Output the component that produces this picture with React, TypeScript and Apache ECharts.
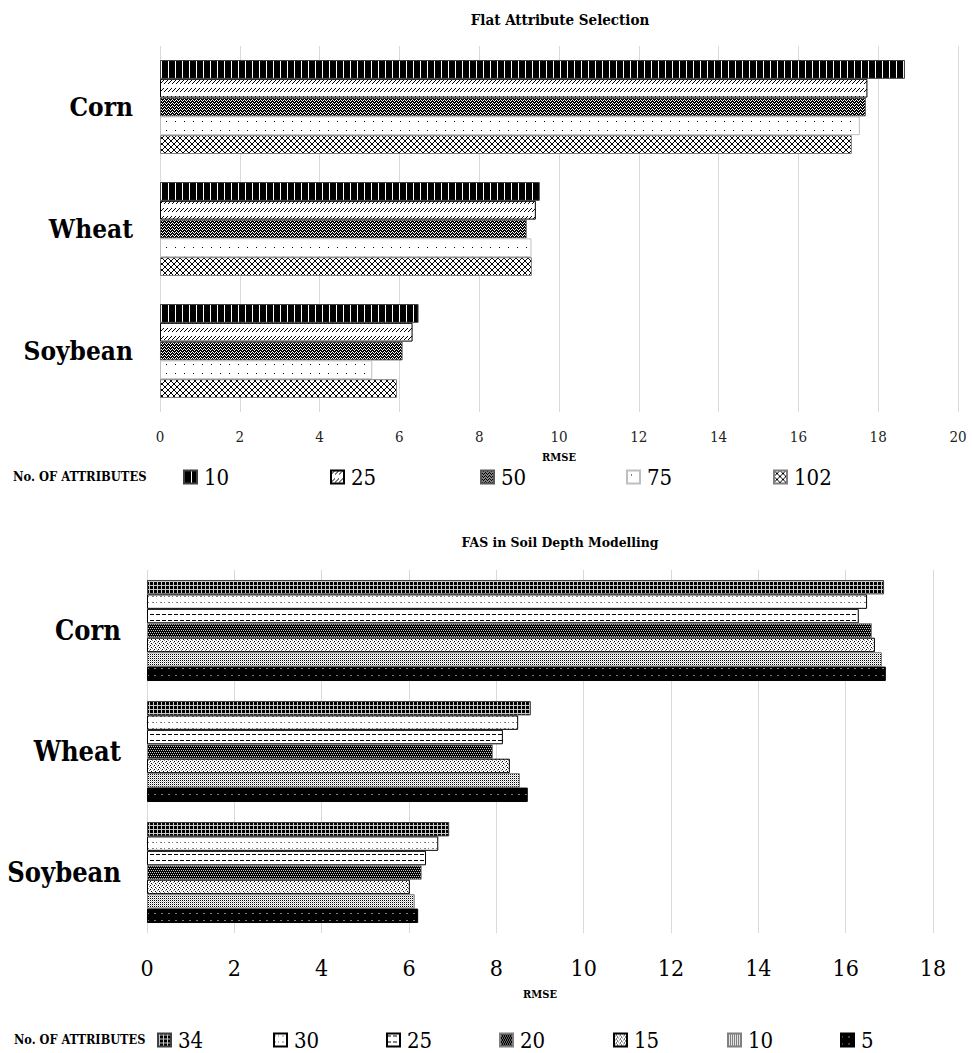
import React, { useEffect, useRef } from "react";
import * as echarts from "echarts";

// Categories shared by both panels
const crops = ["Corn", "Wheat", "Soybean"];

// Panel 1: Flat Attribute Selection (RMSE per number of attributes)
const flatCounts = ["10", "25", "50", "75", "102"];
const flatRmse10 = [18.67, 9.52, 6.48];
const flatRmse25 = [17.73, 9.42, 6.33];
const flatRmse50 = [17.69, 9.19, 6.08];
const flatRmse75 = [17.54, 9.31, 5.32];
const flatRmse102 = [17.34, 9.32, 5.94];
const flatTicks = { min: 0, max: 20, interval: 2 };

// Panel 2: FAS in Soil Depth Modelling (RMSE per number of attributes)
const depthCounts = ["34", "30", "25", "20", "15", "10", "5"];
const depthRmse34 = [16.88, 8.79, 6.92];
const depthRmse30 = [16.49, 8.5, 6.67];
const depthRmse25 = [16.3, 8.15, 6.39];
const depthRmse20 = [16.6, 7.92, 6.29];
const depthRmse15 = [16.67, 8.31, 6.02];
const depthRmse10 = [16.83, 8.54, 6.13];
const depthRmse5 = [16.92, 8.72, 6.21];
const depthTicks = { min: 0, max: 18, interval: 2 };

const FONT = "'DejaVu Serif Condensed', 'DejaVu Serif', serif";

const PALETTE: Record<string, string> = {
  "#": "#000000",
  ".": "#ffffff",
  w: "#ffffff",
  g: "#808080",
  l: "#c8c8c8",
  d: "#404040",
};

// Builds a small repeating pixel tile used as a bar fill pattern
function tile(rows: string[]) {
  const h = rows.length;
  const w = rows[0].length;
  const c = document.createElement("canvas");
  c.width = w;
  c.height = h;
  const ctx = c.getContext("2d")!;
  rows.forEach((r, y) => {
    for (let x = 0; x < w; x++) {
      ctx.fillStyle = PALETTE[r[x]] || "#ffffff";
      ctx.fillRect(x, y, 1, 1);
    }
  });
  return { image: c.toDataURL(), repeat: "repeat", imageWidth: w, imageHeight: h };
}

export default function App() {
  const ref = useRef<HTMLDivElement>(null);

  useEffect(() => {
    const chart = echarts.init(ref.current!, undefined, { renderer: "svg" });

    const flatPatterns = [
      tile(["w######"]),
      tile(["...#", "..#.", ".#..", "#...", "....", "....", "....", "...."]),
      tile(["w###", "#w#w", "##w#"]),
      tile([".........", ".........", ".........", ".........", "....#....", ".........", ".........", ".........", "........."]),
      tile(["#....#", ".#..#.", "..##..", "..##..", ".#..#.", "#....#"]),
    ];
    const flatBorders = ["#404040", "#000000", "#595959", "#bfbfbf", "#7f7f7f"];
    const flatValues = [flatRmse10, flatRmse25, flatRmse50, flatRmse75, flatRmse102];

    const depthPatterns = [
      tile(["#l##", "llll", "#l##", "#l##"]),
      tile(["........", "........", "gg..g...", "........", "........", "........"]),
      tile(["......", "......", "####..", "......", "......", "......"]),
      tile(["l#l#", "####", "#l#l", "####"]),
      tile(["g...", "..#.", ".g..", "...#"]),
      tile(["#.", ".l"]),
      tile(["#######", "#######", "#######", "gg#####", "#######", "#######", "#######"]),
    ];
    const depthBorders = ["#404040", "#000000", "#000000", "#7f7f7f", "#000000", "#7f7f7f", "#000000"];
    const depthValues = [depthRmse34, depthRmse30, depthRmse25, depthRmse20, depthRmse15, depthRmse10, depthRmse5];

    const flatLegendLeft = [183, 330, 480, 626, 773];
    const depthLegendLeft = [157, 273, 386, 499, 613, 727, 840];

    const flatSeries = flatCounts.map((n, i) => ({
      type: "bar",
      name: `flat-${n}`,
      xAxisIndex: 0,
      yAxisIndex: 0,
      data: flatValues[i],
      barGap: "0%",
      barCategoryGap: "23%",
      silent: true,
      itemStyle: { color: flatPatterns[i], borderColor: flatBorders[i], borderWidth: 1 },
    }));

    const depthSeries = depthCounts.map((n, i) => ({
      type: "bar",
      name: `depth-${n}`,
      xAxisIndex: 1,
      yAxisIndex: 1,
      data: depthValues[i],
      barGap: "0%",
      barCategoryGap: "16.5%",
      silent: true,
      itemStyle: { color: depthPatterns[i], borderColor: depthBorders[i], borderWidth: 1 },
    }));

    const flatLegends = flatCounts.map((n, i) => ({
      data: [`flat-${n}`],
      formatter: () => n,
      left: flatLegendLeft[i],
      top: 466,
      padding: 0,
      icon: "rect",
      itemWidth: 13,
      itemHeight: 13,
      selectedMode: false,
      textStyle: { fontFamily: FONT, fontSize: 22, color: "#000", lineHeight: 22, padding: [0, 0, 0, 2] },
    }));

    const depthLegends = depthCounts.map((n, i) => ({
      data: [`depth-${n}`],
      formatter: () => n,
      left: depthLegendLeft[i],
      top: 1029,
      padding: 0,
      icon: "rect",
      itemWidth: 13,
      itemHeight: 13,
      selectedMode: false,
      textStyle: { fontFamily: FONT, fontSize: 22, color: "#000", lineHeight: 22, padding: [0, 0, 0, 2] },
    }));

    const option = {
      animation: false,
      backgroundColor: "#ffffff",
      title: [
        {
          text: "Flat Attribute Selection",
          left: 560,
          top: 12,
          padding: 0,
          textAlign: "center",
          textStyle: { fontFamily: FONT, fontSize: 15, fontWeight: "bold", color: "#000" },
        },
        {
          text: "FAS in Soil Depth Modelling",
          left: 560,
          top: 535,
          padding: 0,
          textAlign: "center",
          textStyle: { fontFamily: FONT, fontSize: 13.8, fontWeight: "bold", color: "#000" },
        },
      ],
      grid: [
        { left: 160, top: 46, width: 798, height: 366 },
        { left: 147, top: 570, width: 786, height: 363 },
      ],
      xAxis: [
        {
          gridIndex: 0,
          type: "value",
          ...flatTicks,
          name: "RMSE",
          nameLocation: "middle",
          nameGap: 40,
          nameTextStyle: { fontFamily: FONT, fontSize: 11, fontWeight: "bold", color: "#000" },
          axisLine: { show: false },
          axisTick: { show: false },
          axisLabel: { fontFamily: FONT, fontSize: 15, color: "#222", margin: 17 },
          splitLine: { lineStyle: { color: "#d9d9d9", width: 1 } },
        },
        {
          gridIndex: 1,
          type: "value",
          ...depthTicks,
          name: "RMSE",
          nameLocation: "middle",
          nameGap: 56,
          nameTextStyle: { fontFamily: FONT, fontSize: 11, fontWeight: "bold", color: "#000" },
          axisLine: { show: false },
          axisTick: { show: false },
          axisLabel: { fontFamily: FONT, fontSize: 23, color: "#000", margin: 23 },
          splitLine: { lineStyle: { color: "#d9d9d9", width: 1 } },
        },
      ],
      yAxis: [
        {
          gridIndex: 0,
          type: "category",
          data: crops,
          inverse: true,
          axisLine: { show: false },
          axisTick: { show: false },
          axisLabel: { fontFamily: FONT, fontSize: 26, fontWeight: "bold", color: "#000", margin: 27 },
        },
        {
          gridIndex: 1,
          type: "category",
          data: crops,
          inverse: true,
          axisLine: { show: false },
          axisTick: { show: false },
          axisLabel: { fontFamily: FONT, fontSize: 27, fontWeight: "bold", color: "#000", margin: 26 },
        },
      ],
      legend: [...flatLegends, ...depthLegends],
      graphic: [
        {
          type: "text",
          left: 13,
          top: 470,
          style: { text: "No. OF ATTRIBUTES", fontFamily: FONT, fontSize: 12.8, fontWeight: "bold", fill: "#000" },
        },
        {
          type: "text",
          left: 14,
          top: 1033,
          style: { text: "No. OF ATTRIBUTES", fontFamily: FONT, fontSize: 12.6, fontWeight: "bold", fill: "#000" },
        },
      ],
      series: [...flatSeries, ...depthSeries],
    };

    chart.setOption(option as any);
    return () => chart.dispose();
  }, []);

  return (
    <div
      ref={ref}
      style={{ position: "absolute", left: 0, top: 0, width: 972, height: 1053, background: "#fff" }}
    />
  );
}
